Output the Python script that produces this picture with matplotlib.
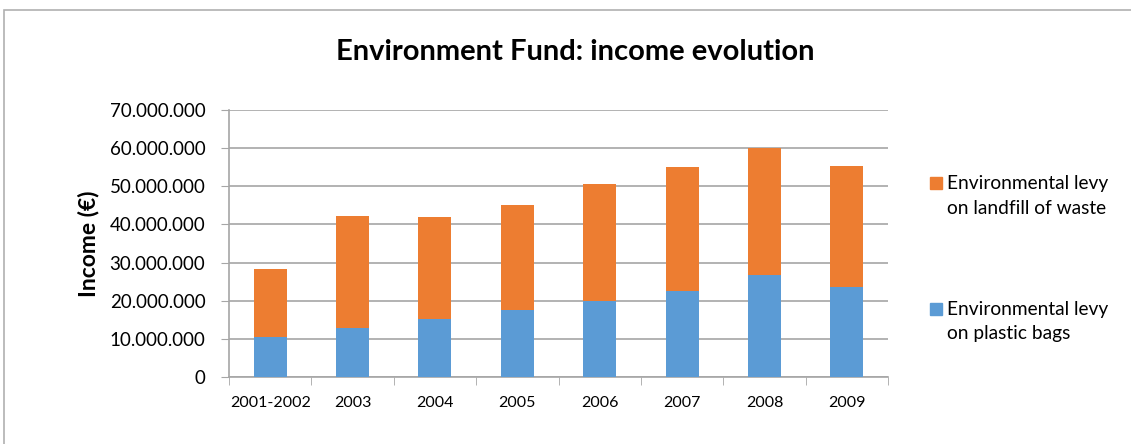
import numpy as np
import matplotlib.pyplot as plt
from matplotlib.patches import Rectangle

years = ['2001-2002', '2003', '2004', '2005', '2006', '2007', '2008', '2009']
plastic_bags = [10.5, 12.8, 15.2, 17.5, 19.9, 22.5, 26.7, 23.5]   # millions
landfill = [17.8, 29.3, 26.8, 27.7, 30.7, 32.5, 33.4, 31.8]        # millions
y_ticks = [0, 10, 20, 30, 40, 50, 60, 70]
legend_labels = ['Environmental levy\non landfill of waste', 'Environmental levy\non plastic bags']

blue = '#5b9bd5'
orange = '#ed7d31'
grid_c = '#a6a6a6'
W, H = 1131, 444

plt.rcParams['font.family'] = ['Lato', 'DejaVu Sans']

fig = plt.figure(figsize=(W / 100, H / 100), dpi=100)
# outer chart border
fig.patches.append(Rectangle((4 / W, -0.1), 1.2, (H - 10) / H + 0.1,
                             transform=fig.transFigure, fill=False,
                             edgecolor='#b0b0b0', lw=1.2))

ax = fig.add_axes([229 / W, 1 - 377 / H, (888 - 229) / W, (377 - 110) / H])
x = np.arange(len(years))
ax.bar(x, plastic_bags, width=0.4, color=blue, zorder=3)
ax.bar(x, landfill, width=0.4, bottom=plastic_bags, color=orange, zorder=3)

ax.set_xlim(-0.5, len(years) - 0.5)
ax.set_ylim(0, 70)
ax.set_yticks(y_ticks)
ax.set_yticklabels(['0' if v == 0 else f'{v * 1000000:,}'.replace(',', '.') for v in y_ticks],
                   fontsize=13.5)
ax.set_xticks(x)
ax.set_xticklabels(years, fontsize=11.5)
ax.set_xticks(np.arange(-0.5, len(years)), minor=True)
ax.tick_params(axis='x', which='major', length=0, pad=14)
ax.tick_params(axis='x', which='minor', length=6, color=grid_c, direction='out')
ax.tick_params(axis='y', length=6, color=grid_c, pad=11)
ax.yaxis.grid(True, color=grid_c, lw=1.2, zorder=0)
for s in ['top', 'right']:
    ax.spines[s].set_visible(False)
for s in ['left', 'bottom']:
    ax.spines[s].set_color(grid_c)
    ax.spines[s].set_linewidth(1.2)

fig.text(88 / W, 1 - 244 / H, 'Income (€)', rotation=90, fontsize=16.5,
         fontweight='bold', ha='center', va='center')
fig.text(575 / W, 1 - 52 / H, 'Environment Fund: income evolution', fontsize=21,
         fontweight='bold', ha='center', va='center')

# legend drawn by hand so the text sits beside the swatch like the original
for (ytop, col, lab) in [(177, orange, legend_labels[0]), (303, blue, legend_labels[1])]:
    fig.patches.append(Rectangle((930 / W, 1 - (ytop + 12) / H), 12 / W, 12 / H,
                                 transform=fig.transFigure, color=col))
    for i, line in enumerate(lab.split('\n')):
        fig.text(947 / W, 1 - (ytop + 6 + 25 * i) / H, line, fontsize=13.8,
                 ha='left', va='center')

fig.savefig('out.png', dpi=100)
